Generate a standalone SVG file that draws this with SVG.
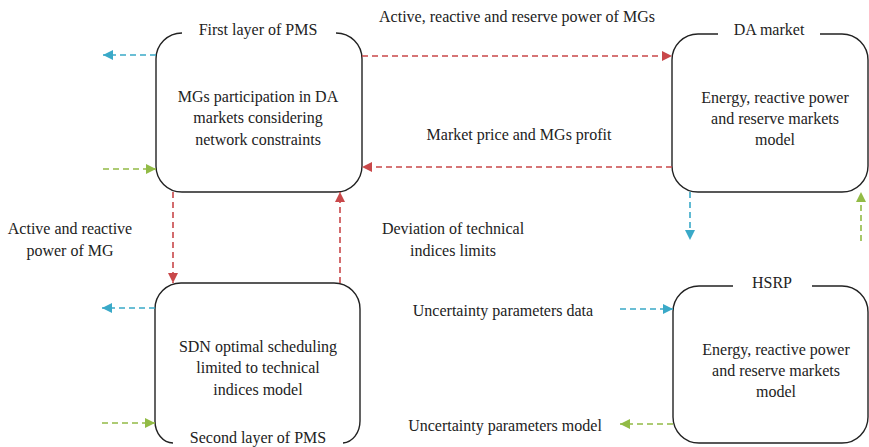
<svg xmlns="http://www.w3.org/2000/svg" width="869" height="447" viewBox="0 0 869 447">
<style>
text{font-family:"Liberation Serif","Times New Roman",serif;font-size:16px;fill:#222;text-anchor:middle}
.box{fill:none;stroke:#222;stroke-width:1.4}
.r{stroke:#c9484a;stroke-width:1.6;stroke-dasharray:6 4;fill:none}
.b{stroke:#3aa9c8;stroke-width:1.6;stroke-dasharray:6 4;fill:none}
.g{stroke:#92bb46;stroke-width:1.6;stroke-dasharray:6 4;fill:none}
</style>
<defs>
<marker id="ar" viewBox="0 0 10 10" refX="10" refY="5" markerWidth="10" markerHeight="10" markerUnits="userSpaceOnUse" orient="auto"><path d="M0,0L10,5L0,10z" fill="#c9484a"/></marker>
<marker id="ab" viewBox="0 0 10 10" refX="10" refY="5" markerWidth="10" markerHeight="10" markerUnits="userSpaceOnUse" orient="auto"><path d="M0,0L10,5L0,10z" fill="#3aa9c8"/></marker>
<marker id="ag" viewBox="0 0 10 10" refX="10" refY="5" markerWidth="10" markerHeight="10" markerUnits="userSpaceOnUse" orient="auto"><path d="M0,0L10,5L0,10z" fill="#92bb46"/></marker>
</defs>
<g id="first-layer">
<path class="box" d="M336,33 A26,26 0 0 1 362,59 V166 A26,26 0 0 1 336,192 H182 A26,26 0 0 1 156,166 V59 A26,26 0 0 1 182,33"/>
<text x="258" y="35">First layer of PMS</text>
<text x="258" y="102">MGs participation in DA</text>
<text x="258" y="123">markets considering</text>
<text x="258" y="145">network constraints</text>
</g>
<g id="da-market">
<path class="box" d="M820,34 H842 A26,26 0 0 1 868,60 V166 A26,26 0 0 1 842,192 H698 A26,26 0 0 1 672,166 V60 A26,26 0 0 1 698,34 H718"/>
<text x="769" y="35">DA market</text>
<text x="775" y="103">Energy, reactive power</text>
<text x="775" y="124">and reserve markets</text>
<text x="775" y="145">model</text>
</g>
<g id="second-layer">
<path class="box" d="M173,443 A18,22 0 0 1 155,421 V309 A26,26 0 0 1 181,283 H334 A26,26 0 0 1 360,309 V421 A18,22 0 0 1 343,443"/>
<text x="258" y="352">SDN optimal scheduling</text>
<text x="258" y="373">limited to technical</text>
<text x="258" y="395">indices model</text>
<text x="258" y="443">Second layer of PMS</text>
</g>
<g id="hsrp">
<path class="box" d="M812,286 H842 A26,26 0 0 1 868,312 V417 A26,26 0 0 1 842,443 H699 A26,26 0 0 1 673,417 V312 A26,26 0 0 1 699,286 H733"/>
<text x="772" y="288">HSRP</text>
<text x="776" y="355">Energy, reactive power</text>
<text x="776" y="376">and reserve markets</text>
<text x="776" y="397">model</text>
</g>
<g id="connectors">
<line class="r" x1="362" y1="56" x2="672" y2="56" marker-end="url(#ar)"/>
<line class="r" x1="672" y1="167" x2="362" y2="167" marker-end="url(#ar)"/>
<line class="r" x1="173" y1="192" x2="173" y2="283" marker-end="url(#ar)"/>
<line class="r" x1="340" y1="283" x2="340" y2="192" marker-end="url(#ar)"/>
<line class="b" x1="156" y1="55" x2="103" y2="55" marker-end="url(#ab)"/>
<line class="g" x1="103" y1="169" x2="156" y2="169" marker-end="url(#ag)"/>
<line class="b" x1="155" y1="308" x2="102" y2="308" marker-end="url(#ab)"/>
<line class="g" x1="102" y1="423" x2="155" y2="423" marker-end="url(#ag)"/>
<line class="b" x1="690" y1="192" x2="690" y2="240" marker-end="url(#ab)"/>
<line class="g" x1="861" y1="241" x2="861" y2="192" marker-end="url(#ag)"/>
<line class="b" x1="620" y1="309" x2="673" y2="309" marker-end="url(#ab)"/>
<line class="g" x1="673" y1="424" x2="620" y2="424" marker-end="url(#ag)"/>
</g>
<g id="labels">
<text x="517" y="22">Active, reactive and reserve power of MGs</text>
<text x="519" y="140">Market price and MGs profit</text>
<text x="70" y="234">Active and reactive</text>
<text x="70" y="256">power of MG</text>
<text x="453" y="234">Deviation of technical</text>
<text x="453" y="256">indices limits</text>
<text x="503" y="316">Uncertainty parameters data</text>
<text x="505" y="431">Uncertainty parameters model</text>
</g>
</svg>
